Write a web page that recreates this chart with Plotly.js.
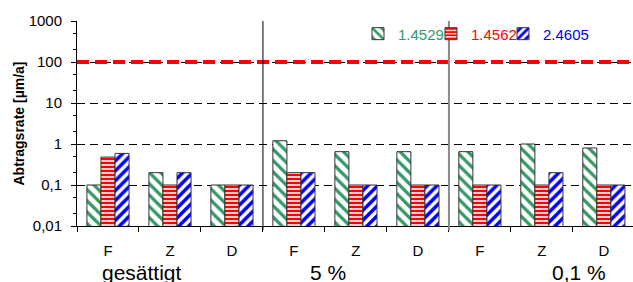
<!DOCTYPE html>
<html>
<head>
<meta charset="utf-8">
<script src="https://cdn.plot.ly/plotly-3.0.1.min.js"></script>
<style>html,body{margin:0;padding:0;background:#fff;}#chart{width:633px;height:282px;}</style>
</head>
<body>
<div id="chart"></div>
<script>
// ---- data ----
const groups = ['gesättigt', '5 %', '0,1 %'];
const cats = ['F', 'Z', 'D'];
const seriesNames = ['1.4529', '1.4562', '2.4605'];
const s1 = [0.1, 0.2, 0.1, 1.2, 0.65, 0.65, 0.65, 1.0, 0.8];
const s2 = [0.48, 0.1, 0.1, 0.2, 0.1, 0.1, 0.1, 0.1, 0.1];
const s3 = [0.59, 0.2, 0.1, 0.2, 0.1, 0.1, 0.1, 0.2, 0.1];
const limit = 100;
const yTickVals = [0.01, 0.1, 1, 10, 100, 1000];
const yTickText = ['0,01', '0,1', '1', '10', '100', '1000'];

// ---- build ----
const colors = ['#339966', '#FF0000', '#0000FF'];
const shapesPat = ['\\', '-', '/'];
const patSize = [8, 4, 7];
const patSolid = [0.4, 0.6, 0.5];
const legendIds = ['legend', 'legend2', 'legend3'];
const legendX = [0.5054, 0.6367, 0.7662];
const xs = [];
const tickText = [];
groups.forEach((g, gi) => cats.forEach((c, ci) => { xs.push(gi * cats.length + ci); tickText.push(c); }));
const boundaries = xs.map(v => v - 0.5);

const traces = [s1, s2, s3].map((vals, i) => ({
  type: 'bar',
  x: xs,
  y: vals,
  name: '<span style="color:' + colors[i] + '">' + seriesNames[i] + '</span>',
  legend: legendIds[i],
  marker: {
    color: colors[i],
    line: {color: '#333333', width: 1},
    pattern: {shape: shapesPat[i], fgcolor: colors[i], bgcolor: '#ffffff', size: patSize[i], solidity: patSolid[i], fillmode: 'replace'}
  },
  hoverinfo: 'y'
}));

const nCat = xs.length;
const xr = [-0.5, nCat - 0.53];

const shapes = [
  {type: 'line', xref: 'paper', yref: 'y', x0: 0, x1: 1, y0: limit, y1: limit,
   line: {color: '#FF0000', width: 4, dash: '12px,6px'}, layer: 'above'}
];
for (let gi = 1; gi < groups.length; gi++) {
  const bx = gi * cats.length - 0.5;
  shapes.push({type: 'line', xref: 'x', yref: 'paper', x0: bx, x1: bx, y0: -0.02, y1: 1,
    line: {color: gi === 1 ? '#000000' : '#888888', width: gi === 1 ? 1 : 2}, layer: 'above'});
}

const groupPos = [0.55, 3.55, 7.6];
const annotations = groups.map((g, gi) => ({
  text: g, x: groupPos[gi], xref: 'x', y: -0.228, yref: 'paper',
  xanchor: 'center', yanchor: 'middle', showarrow: false,
  font: {family: 'Liberation Sans, Arial, sans-serif', size: 21, color: '#000'}
}));

const layout = {
  width: 633, height: 282,
  margin: {l: 77, r: 0, t: 21, b: 56},
  paper_bgcolor: '#fff', plot_bgcolor: '#fff',
  font: {family: 'Liberation Sans, Arial, sans-serif', size: 15, color: '#000'},
  barmode: 'group', bargap: 0.32, bargroupgap: 0,
  showlegend: true,
  xaxis: {
    range: xr, tickmode: 'array', tickvals: boundaries, ticktext: boundaries.map(() => ''),
    ticks: 'outside', ticklen: 5, tickcolor: '#000', showgrid: false, zeroline: false,
    showline: true, linecolor: '#000', linewidth: 1, showticklabels: false, fixedrange: true
  },
  xaxis2: {
    overlaying: 'x', side: 'bottom', range: xr, tickmode: 'array', tickvals: xs, ticktext: tickText,
    ticks: '', showgrid: false, zeroline: false, showline: false, showticklabels: true,
    ticklabelstandoff: 14, tickfont: {size: 15}, fixedrange: true
  },
  yaxis: {
    type: 'log', range: [-2, 3], tickmode: 'array', tickvals: yTickVals, ticktext: yTickText,
    ticks: 'outside', ticklen: 5, tickcolor: '#000', showline: true, linecolor: '#000', linewidth: 1,
    showgrid: true, gridcolor: '#000', gridwidth: 1, griddash: '8px,5px', zeroline: false,
    minor: {ticks: 'outside', ticklen: 3, tickcolor: '#000', showgrid: false},
    ticklabelstandoff: 6, tickfont: {size: 15},
    title: {text: '<b>Abtragsrate [µm/a]</b>', font: {size: 14}, standoff: 0},
    fixedrange: true
  },
  shapes: shapes,
  annotations: annotations
};
legendIds.forEach((id, i) => {
  layout[id] = {orientation: 'h', x: legendX[i], xanchor: 'left', y: 0.937, yanchor: 'middle',
    bgcolor: 'rgba(0,0,0,0)', borderwidth: 0, font: {size: 15}};
});

// invisible helper trace so xaxis2 renders its labels
traces.push({type: 'scatter', x: [xs[0]], y: [yTickVals[0]], xaxis: 'x2', yaxis: 'y', mode: 'markers',
  marker: {opacity: 0}, showlegend: false, hoverinfo: 'skip'});

Plotly.newPlot('chart', traces, layout, {displayModeBar: false, staticPlot: true});
</script>
</body>
</html>
